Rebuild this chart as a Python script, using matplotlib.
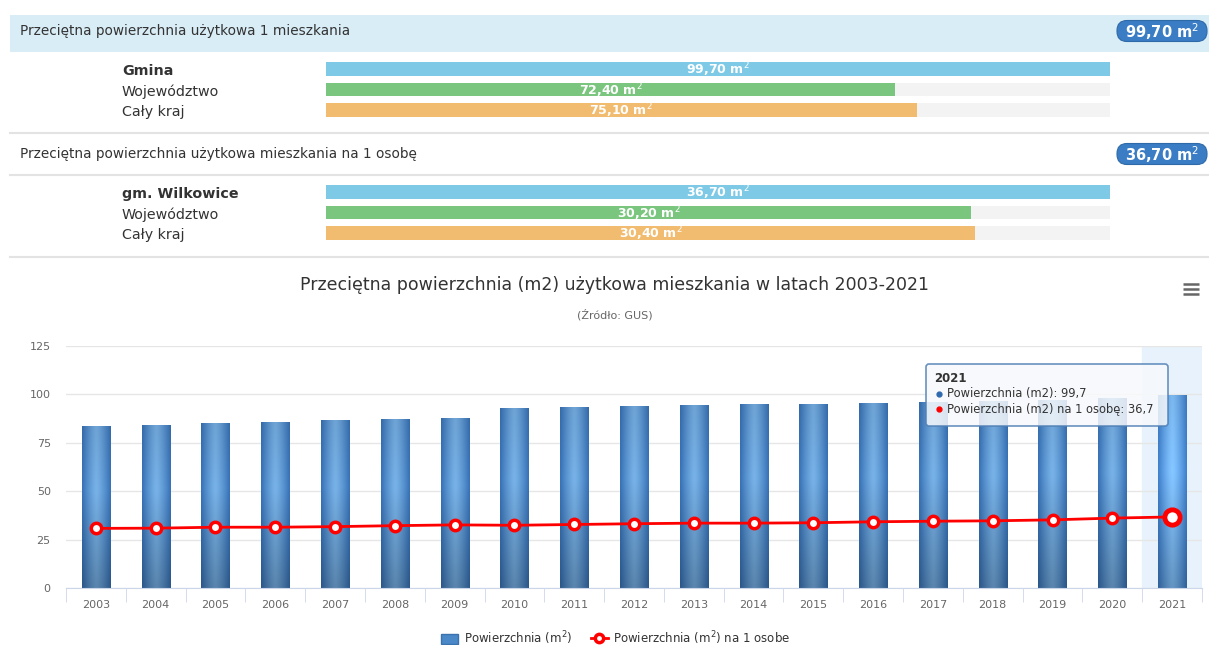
import numpy as np
import matplotlib
matplotlib.use('Agg')
import matplotlib.pyplot as plt
from matplotlib.patches import FancyBboxPatch, Rectangle
from matplotlib.lines import Line2D

# --- data -----------------------------------------------------------------
group_labels = ['Gmina', 'Województwo', 'Cały kraj']
flat_area = [99.70, 72.40, 75.10]
group_labels_2 = ['gm. Wilkowice', 'Województwo', 'Cały kraj']
flat_area_person = [36.70, 30.20, 30.40]
row_colors = ['#7ecae6', '#7bc67f', '#f2bc70']

years = ['2003', '2004', '2005', '2006', '2007', '2008', '2009', '2010',
         '2011', '2012', '2013', '2014', '2015', '2016', '2017', '2018',
         '2019', '2020', '2021']
area = [83.7, 84.3, 85.3, 85.8, 86.8, 87.3, 87.9, 93.0, 93.5, 94.0,
        94.5, 95.0, 95.0, 95.5, 96.1, 96.6, 97.2, 98.3, 99.7]
area_person = [30.8, 30.9, 31.4, 31.4, 31.7, 32.2, 32.6, 32.4, 32.8, 33.2,
               33.5, 33.5, 33.7, 34.2, 34.5, 34.7, 35.2, 36.1, 36.7]

W, H = 1209, 645
fig = plt.figure(figsize=(W / 100, H / 100), dpi=100)
fig.patch.set_facecolor('white')


def px_axes(x0, y0, x1, y1, **kw):
    # axes placed by pixel box (top-left origin)
    return fig.add_axes([x0 / W, 1 - y1 / H, (x1 - x0) / W, (y1 - y0) / H], **kw)


def fmt(v):
    return f'{v:.2f}'.replace('.', ',') + ' m$^2$'


# background layer in pixel coordinates
bg = px_axes(0, 0, W, H)
bg.set_xlim(0, W)
bg.set_ylim(H, 0)
bg.axis('off')

bg.add_patch(Rectangle((10, 15), W - 10, 37, color='#d9edf7', lw=0))
for yy in (133, 175, 257):
    bg.plot([10, W], [yy, yy], color='#e3e3e3', lw=1.5)

txt_kw = dict(fontsize=9.8, color='#333333', va='center')
bg.text(20, 31, 'Przeciętna powierzchnia użytkowa 1 mieszkania', **txt_kw)
bg.text(20, 154, 'Przeciętna powierzchnia użytkowa mieszkania na 1 osobę', **txt_kw)


def badge(yc, value):
    bg.add_patch(FancyBboxPatch((1117, yc - 10.5), 90, 21,
                                boxstyle='round,pad=0,rounding_size=10',
                                fc='#3a7dc4', ec='#2f6aa8', lw=0.8))
    bg.text(1162, yc + 1, fmt(value), color='white', fontsize=10.5,
            fontweight='bold', ha='center', va='center')


badge(31, flat_area[0])
badge(154, flat_area_person[0])


def group(labels, values, y0):
    for i, lab in enumerate(labels):
        bg.text(122, y0 + 12 + i * 20.5, lab, fontsize=10.3, color='#333333',
                va='center', fontweight='bold' if i == 0 else 'normal')
    ax = px_axes(326, y0, 1110, y0 + 61)
    ax.set_xlim(0, max(values))
    ax.set_ylim(2.5, -0.5)
    ax.axis('off')
    pos = np.arange(len(values))
    ax.barh(pos, [max(values)] * len(values), height=0.68, color='#f3f3f3')
    ax.barh(pos, values, height=0.68, color=row_colors)
    for p, v in zip(pos, values):
        ax.text(v / 2, p + 0.05, fmt(v), color='white', fontsize=9,
                fontweight='bold', ha='center', va='center')


group(group_labels, flat_area, 59)
group(group_labels_2, flat_area_person, 182)

# --- main chart -------------------------------------------------------------
fig.text(615 / W, 1 - 285 / H,
         'Przeciętna powierzchnia (m2) użytkowa mieszkania w latach 2003-2021',
         fontsize=12.5, color='#333333', ha='center', va='center')
fig.text(615 / W, 1 - 315 / H, '(Źródło: GUS)', fontsize=8, color='#666666',
         ha='center', va='center')
for yy in (283.5, 288.5, 293.5):
    bg.plot([1183, 1199], [yy, yy], color='#666666', lw=1.8, solid_capstyle='butt')

ax = px_axes(66, 346, 1202, 588)
x = np.arange(len(years))
ax.set_xlim(-0.5, len(years) - 0.5)
ax.set_ylim(0, 125)
ax.axvspan(len(years) - 1.5, len(years) - 0.5, color='#e8f2fc', zorder=0)
ax.set_yticks(np.arange(0, 126, 25))
ax.yaxis.grid(True, color='#e6e6e6', lw=1)
ax.set_axisbelow(True)
for s in ('top', 'right', 'left'):
    ax.spines[s].set_visible(False)
ax.spines['bottom'].set_color('#ccd6eb')
ax.tick_params(axis='y', length=0, labelsize=8, labelcolor='#666666', pad=11)
ax.set_xticks(x)
ax.set_xticklabels(years)
ax.tick_params(axis='x', length=0, labelsize=8, labelcolor='#666666', pad=9)
ax.set_xticks(np.arange(-0.5, len(years), 1), minor=True)
ax.tick_params(axis='x', which='minor', length=10, color='#ccd6eb')

bars = ax.bar(x, area, width=0.47, color='#4a88c8', zorder=2)

# cylinder-like gradient for columns
nx, ny = 40, 60
u = np.linspace(0, 1, nx)[None, :]
s = np.linspace(0, 1, ny)[:, None]
t = np.abs(u - 0.5) * 2
light = np.array([0.47, 0.70, 0.91])
dark = np.array([0.22, 0.45, 0.72])
mix = (t ** 1.3)[..., None]
grad = light * (1 - mix) + dark * mix
shade = (1 - 0.25 * np.clip(s - 0.4, 0, 1) / 0.6 - 0.08 * np.clip(0.4 - s, 0, 1) / 0.4)
grad = grad * shade[..., None] * np.ones((1, nx, 1))
grad = np.clip(grad, 0, 1)
for i, b in enumerate(bars):
    g = grad if i < len(bars) - 1 else np.clip(grad * 1.12, 0, 1)
    im = ax.imshow(g, extent=[b.get_x(), b.get_x() + b.get_width(), 0, b.get_height()],
                   aspect='auto', zorder=2, interpolation='bicubic')
    im.set_clip_path(b)
ax.set_xlim(-0.5, len(years) - 0.5)
ax.set_ylim(0, 125)

ax.plot(x, area_person, color='#ff0000', lw=2, marker='o', ms=7.5,
        mfc='white', mec='#ff0000', mew=2.5, zorder=4)
ax.plot(x[-1], area_person[-1], marker='o', ms=11, mfc='white', mec='#ff0000',
        mew=3.5, zorder=5)

# tooltip
top = px_axes(0, 0, W, H)
top.set_xlim(0, W)
top.set_ylim(H, 0)
top.axis('off')
top.patch.set_alpha(0)
top.add_patch(FancyBboxPatch((926, 364), 242, 62, boxstyle='round,pad=0,rounding_size=3',
                             fc='#f7f9fc', ec='#4f7fb5', lw=1.2, alpha=0.85, zorder=5))
top.text(934, 378, years[-1], fontsize=8.5, fontweight='bold', color='#333333',
         va='center', zorder=6)
top.plot(938.5, 394, 'o', ms=3.5, color='#2f6ab0', zorder=6)
top.text(947, 394, f'Powierzchnia (m2): {area[-1]}'.replace('.', ','), fontsize=8.3,
         color='#333333', va='center', zorder=6)
top.plot(938.5, 409, 'o', ms=3.5, color='#ff0000', zorder=6)
top.text(947, 409, f'Powierzchnia (m2) na 1 osobę: {area_person[-1]}'.replace('.', ','),
         fontsize=8.3, color='#333333', va='center', zorder=6)

# legend
handles = [Rectangle((0, 0), 1, 1, fc='#4a88c8', ec='#3a73b0'),
           Line2D([], [], color='#ff0000', lw=2, marker='o', ms=6, mfc='white',
                  mec='#ff0000', mew=2.5)]
fig.legend(handles, ['Powierzchnia (m$^2$)', 'Powierzchnia (m$^2$) na 1 osobe'],
           loc='center', bbox_to_anchor=(616 / W, 1 - 638 / H), ncol=2, frameon=False,
           fontsize=8.5, handlelength=1.4, handleheight=1.0, columnspacing=1.6,
           handletextpad=0.5, labelcolor='#333333')

fig.savefig('out.png', dpi=100)
